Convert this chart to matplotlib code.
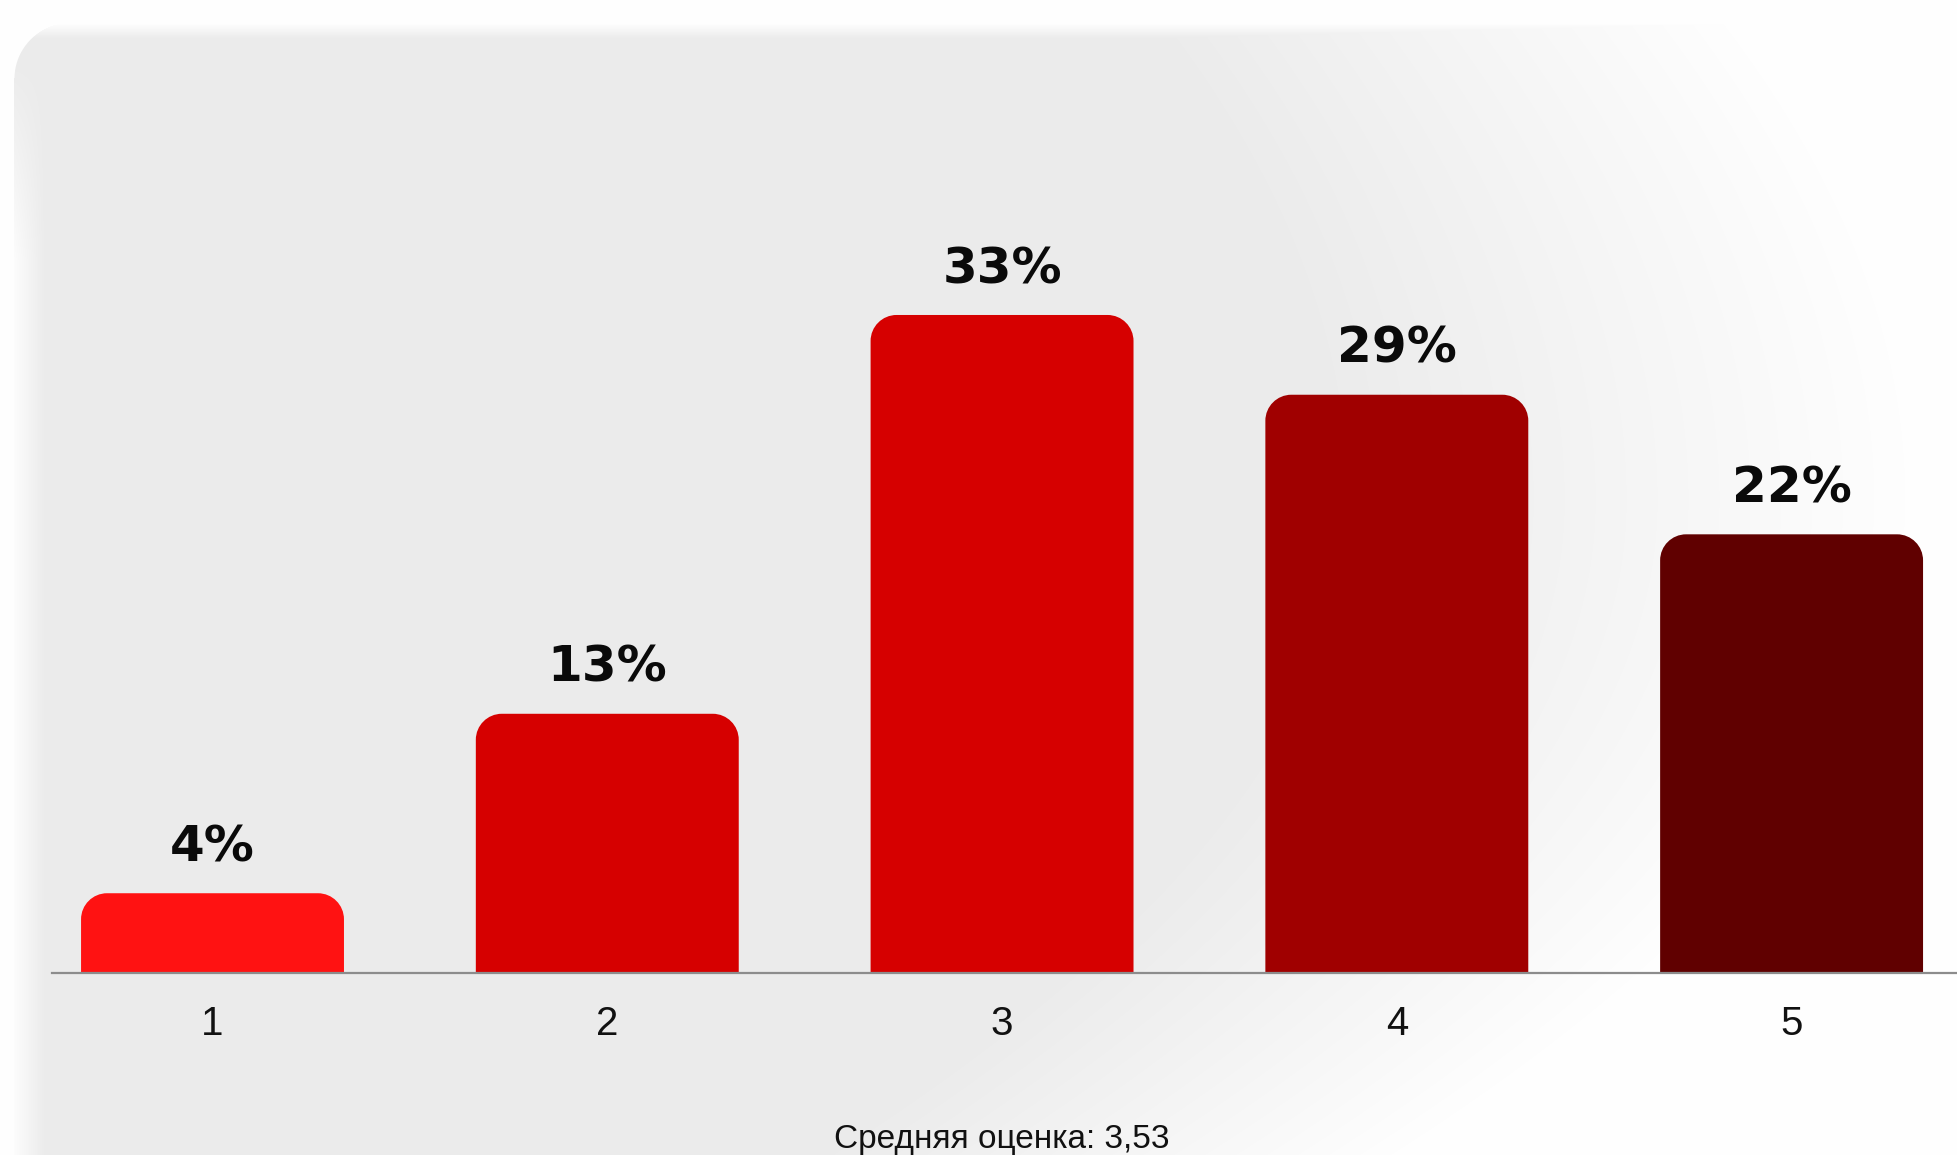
import numpy as np
import matplotlib
matplotlib.use("Agg")
from matplotlib import pyplot as plt
from matplotlib.path import Path
from matplotlib.patches import PathPatch

scores = ["1", "2", "3", "4", "5"]
shares = [4, 13, 33, 29, 22]
bar_colors = ["#ff1212", "#d60000", "#d60000", "#a00000", "#600000"]
avg_text = "Средняя оценка: 3,53"

W, H = 1957, 1155
fig = plt.figure(figsize=(W / 100, H / 100), dpi=100)

# light grey card, fading to white towards the right and on the edges
bg = fig.add_axes([0, 0, 1, 1], zorder=0)
xx, yy = np.meshgrid(np.arange(W), np.arange(H))
curv = np.where(yy > 500, 0.0012, 0.0008)
x50 = 1620 - curv * (yy - 500.0) ** 2
w = np.clip((xx - x50) / 600.0 + 0.5, 0, 1)
w = np.maximum(w, np.clip((38 - yy) / 15.0, 0, 1))
w = np.maximum(w, np.clip((45 - xx) / 35.0, 0, 1) * np.clip((yy - 60) / 200.0, 0, 1))
w = np.maximum(w, (xx < 14).astype(float))
cx, cy, r = 69, 78, 55
corner = (xx < cx) & (yy < cy)
dist = np.hypot(xx - cx, yy - cy)
w = np.where(corner, np.maximum(w, np.clip(dist - r + 0.5, 0, 1)), w)
img = 0.922 + 0.076 * w
bg.imshow(np.dstack([img, img, img]), aspect="auto", interpolation="bilinear")
bg.axis("off")

# main axes
base_px = 973
ppy_target = 19.94
ymax = 40
ax = fig.add_axes([52 / W, (H - base_px) / H, (W - 52) / W, ymax * ppy_target / H], zorder=1)
ax.set_facecolor("none")
ax.set_xlim(0.5934, 5.419)
ax.set_ylim(0, ymax)
for s in ["top", "left", "right"]:
    ax.spines[s].set_visible(False)
ax.spines["bottom"].set_color("#8c8c8c")
ax.spines["bottom"].set_linewidth(1.6)
ax.spines["bottom"].set_zorder(3)
ax.set_yticks([])
pos = np.arange(1, len(scores) + 1)
ax.set_xticks(pos)
ax.set_xticklabels(scores, fontsize=29, family="Liberation Sans", color="#111111")
ax.tick_params(axis="x", length=0, pad=23)

# pixels per data unit, for the rounded tops
bbox = ax.get_window_extent()
ppx = bbox.width / (ax.get_xlim()[1] - ax.get_xlim()[0])
ppy = bbox.height / (ax.get_ylim()[1] - ax.get_ylim()[0])
bar_w = 0.666
rad = 26
rx = rad / ppx
ry = rad / ppy
k = 0.5523  # bezier circle constant


def rounded_bar(x0, width, h):
    x1 = x0 + width
    verts = [(x0, 0), (x0, h - ry),
             (x0, h - ry + k * ry), (x0 + rx - k * rx, h), (x0 + rx, h),
             (x1 - rx, h),
             (x1 - rx + k * rx, h), (x1, h - ry + k * ry), (x1, h - ry),
             (x1, 0), (x0, 0)]
    codes = [Path.MOVETO, Path.LINETO,
             Path.CURVE4, Path.CURVE4, Path.CURVE4,
             Path.LINETO,
             Path.CURVE4, Path.CURVE4, Path.CURVE4,
             Path.LINETO, Path.CLOSEPOLY]
    return Path(verts, codes)


for p, v, c in zip(pos, shares, bar_colors):
    ax.add_patch(PathPatch(rounded_bar(p - bar_w / 2, bar_w, v), fc=c, ec="none", zorder=2))
    ax.annotate("%d%%" % v, (p, v), xytext=(0, 23), textcoords="offset points",
                ha="center", va="baseline", fontsize=36, fontweight="bold",
                family="DejaVu Sans", color="#0a0a0a", annotation_clip=False)

xc = ax.transData.transform((3, 0))[0] / W
fig.text(xc, 7 / H, avg_text, ha="center", va="baseline", fontsize=24,
         family="Liberation Sans", color="#111111")

fig.savefig("out.png", dpi=100)
